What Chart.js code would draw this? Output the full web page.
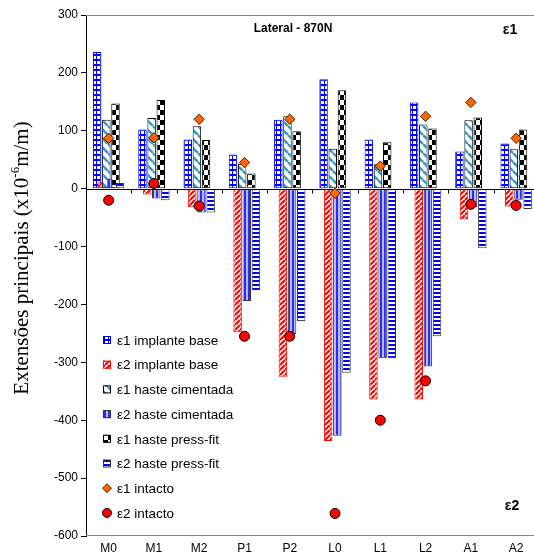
<!DOCTYPE html>
<html><head><meta charset="utf-8">
<script src="https://cdn.jsdelivr.net/npm/chart.js@4.4.0/dist/chart.umd.min.js"></script>
<style>
html,body{margin:0;padding:0;overflow:hidden;background:#fff;width:534px;height:557px}
#wrap{position:relative;width:545px;height:557px}
canvas{display:block}
</style></head><body>
<div id="wrap"><canvas id="c" width="545" height="557"></canvas></div>
<script>
// ---------- data ----------
const categories = ['M0','M1','M2','P1','P2','L0','L1','L2','A1','A2'];
const e1ImplanteBase   = [236, 102,  85,   59,  119,  189,   85,  149,   64,  78];
const e2ImplanteBase   = [ 11, -10, -32, -248, -325, -436, -364, -364,  -53, -31];
const e1HasteCimentada = [119, 122, 108,   43,  125,   69,   42,  111,  118,  68];
const e2HasteCimentada = [ 17, -17, -41, -194, -251, -427, -293, -307,  -32, -19];
const e1HastePressFit  = [147, 153,  84,   26,   99,  170,   80,  104,  123, 102];
const e2HastePressFit  = [ 10, -20, -41, -175, -229, -318, -293, -255, -103, -35];
const e1Intacto        = [ 87,  88, 120,   45,  120,   -8,   39,  125,  149,  87];
const e2Intacto        = [-20,   9, -30, -255, -255, -561, -400, -332,  -27, -29];
const yTicks = [300, 200, 100, 0, -100, -200, -300, -400, -500, -600];
const seriesLabels = ['ε1 implante base','ε2 implante base','ε1 haste cimentada','ε2 haste cimentada','ε1 haste press-fit','ε2 haste press-fit','ε1 intacto','ε2 intacto'];
const chartTitle = 'Lateral - 870N';
const yTitleMain = 'Extensões principais (x10', yTitleSup = '-6', yTitleTail = 'm/m)';

// ---------- patterns ----------
const canvas = document.getElementById('c');
const mainCtx = canvas.getContext('2d');
function makePattern(w, h, draw) {
  const c = document.createElement('canvas'); c.width = w; c.height = h;
  const g = c.getContext('2d'); draw(g, w, h);
  return mainCtx.createPattern(c, 'repeat');
}
const pSquares = makePattern(4, 5, (g) => { g.fillStyle = '#0000FF'; g.fillRect(0,0,4,5); g.fillStyle = '#fff'; g.fillRect(1,1,3,3); });
const pRedDiag = makePattern(5, 5, (g, w) => {
  g.fillStyle = '#fff'; g.fillRect(0,0,w,w);
  g.strokeStyle = '#FF0000'; g.lineWidth = 2.1;
  for (let k = -1; k <= 1; k++) { g.beginPath(); g.moveTo(k*w, w); g.lineTo(k*w + w, 0); g.stroke(); }
});
const pBlueDiag = makePattern(9, 9, (g, w) => {
  g.fillStyle = '#fff'; g.fillRect(0,0,w,w);
  g.strokeStyle = '#3399CC'; g.lineWidth = 2.6;
  for (let k = -1; k <= 1; k++) { g.beginPath(); g.moveTo(k*w, 0); g.lineTo(k*w + w, w); g.stroke(); }
});
const pVert = makePattern(4, 1, (g) => { g.fillStyle = '#2B2BFF'; g.fillRect(0,0,4,1); g.fillStyle = '#B8B8FF'; g.fillRect(2,0,2,1); });
const pChecker = makePattern(8, 10, (g) => { g.fillStyle = '#fff'; g.fillRect(0,0,8,10); g.fillStyle = '#000'; g.fillRect(0,0,4,5); g.fillRect(4,5,4,5); });
const pHoriz = makePattern(1, 4, (g) => { g.fillStyle = '#fff'; g.fillRect(0,0,1,4); g.fillStyle = '#0000FF'; g.fillRect(0,0,1,2); });

const barFills = [pSquares, pRedDiag, pBlueDiag, pVert, pChecker, pHoriz];
const barBorders = ['#0000FF', '#FF0000', '#000000', '#333333', '#000000', '#333333'];
const barValues = [e1ImplanteBase, e2ImplanteBase, e1HasteCimentada, e2HasteCimentada, e1HastePressFit, e2HastePressFit];

const datasets = barValues.map((vals, i) => ({
  type: 'bar', label: seriesLabels[i], data: vals,
  backgroundColor: barFills[i], borderColor: barBorders[i], borderWidth: 1, borderSkipped: false
}));
datasets.push({ type: 'line', label: seriesLabels[6], data: e1Intacto, showLine: false, order: -1,
  pointStyle: 'rectRot', pointRadius: 5.2, backgroundColor: '#FF6600', borderColor: '#3a2a1a', borderWidth: 1 });
datasets.push({ type: 'line', label: seriesLabels[7], data: e2Intacto, showLine: false, order: -1,
  pointStyle: 'circle', pointRadius: 5, backgroundColor: '#FF0000', borderColor: '#000', borderWidth: 1 });

const FONT = '"Liberation Sans", Arial, sans-serif';
const SERIF = '"Liberation Serif", "Times New Roman", serif';

const custom = {
  id: 'custom',
  beforeDatasetsDraw(chart) {
    const { ctx, chartArea: a, scales: { x, y } } = chart;
    ctx.save();
    ctx.strokeStyle = '#8a8a8a'; ctx.lineWidth = 1;
    ctx.beginPath();
    ctx.moveTo(a.left, a.top + 0.5); ctx.lineTo(a.right - 0.5, a.top + 0.5);
    ctx.lineTo(a.right - 0.5, a.bottom - 0.5); ctx.lineTo(a.left, a.bottom - 0.5);
    ctx.stroke();
    ctx.restore();
    // bars drawn in series order so later series sit on top
    for (let i = 0; i < barValues.length; i++) {
      const m = chart.getDatasetMeta(i);
      if (!m.hidden) m.controller.draw();
    }
    // zero axis with category tick marks
    const y0 = Math.round(y.getPixelForValue(0)) + 0.5;
    const step = x.getPixelForValue(1) - x.getPixelForValue(0);
    ctx.save();
    ctx.strokeStyle = '#000'; ctx.lineWidth = 1;
    ctx.beginPath();
    ctx.moveTo(a.left, y0); ctx.lineTo(a.right, y0);
    for (let i = 0; i <= categories.length; i++) {
      const px = Math.round(x.getPixelForValue(0) - step / 2 + i * step) + 0.5;
      ctx.moveTo(px, y0); ctx.lineTo(px, y0 + 4);
    }
    ctx.stroke();
    ctx.restore();
  },
  beforeDatasetDraw(chart, args) {
    if (args.index < barValues.length) return false;
  },
  afterDraw(chart) {
    const { ctx, chartArea: a } = chart;
    ctx.save();
    ctx.fillStyle = '#000';
    ctx.textBaseline = 'middle'; ctx.textAlign = 'center';
    ctx.font = 'bold 12px ' + FONT;
    ctx.fillText(chartTitle, a.left + 207, a.top + 14);
    ctx.font = 'bold 14px ' + FONT;
    ctx.fillText('ε1', a.left + 424, a.top + 15);
    ctx.fillText('ε2', a.left + 426, a.bottom - 30);

    // legend
    const lx = a.left + 17, ly0 = a.top + 325, dy = 24.7;
    ctx.textAlign = 'left';
    ctx.font = '13.5px ' + FONT;
    for (let i = 0; i < seriesLabels.length; i++) {
      const cy = ly0 + i * dy;
      const ds = chart.data.datasets[i];
      if (i < barValues.length) {
        ctx.fillStyle = ds.backgroundColor;
        ctx.fillRect(lx, cy - 4, 8, 8);
        ctx.strokeStyle = ds.borderColor; ctx.lineWidth = 1;
        ctx.strokeRect(lx + 0.5, cy - 3.5, 7, 7);
      } else if (i === 6) {
        ctx.beginPath();
        ctx.moveTo(lx + 4, cy - 4.5); ctx.lineTo(lx + 8.5, cy); ctx.lineTo(lx + 4, cy + 4.5); ctx.lineTo(lx - 0.5, cy); ctx.closePath();
        ctx.fillStyle = ds.backgroundColor; ctx.fill();
        ctx.strokeStyle = ds.borderColor; ctx.stroke();
      } else {
        ctx.beginPath(); ctx.arc(lx + 4, cy, 4.5, 0, Math.PI * 2);
        ctx.fillStyle = ds.backgroundColor; ctx.fill();
        ctx.strokeStyle = ds.borderColor; ctx.stroke();
      }
      ctx.fillStyle = '#000';
      ctx.fillText(seriesLabels[i], lx + 14, cy + 1);
    }

    // y title with superscript
    ctx.translate(21, a.top + 243);
    ctx.rotate(-Math.PI / 2);
    const f = '21px ' + SERIF, fs = '13px ' + SERIF;
    ctx.font = f; const w1 = ctx.measureText(yTitleMain).width, w3 = ctx.measureText(yTitleTail).width;
    ctx.font = fs; const w2 = ctx.measureText(yTitleSup).width;
    const x0 = -(w1 + w2 + w3) / 2;
    ctx.textBaseline = 'alphabetic';
    ctx.font = f; ctx.fillText(yTitleMain, x0, 7);
    ctx.font = fs; ctx.fillText(yTitleSup, x0 + w1, -2);
    ctx.font = f; ctx.fillText(yTitleTail, x0 + w1 + w2, 7);
    ctx.restore();
  }
};

new Chart(mainCtx, {
  type: 'bar',
  data: { labels: categories, datasets },
  options: {
    responsive: false, animation: false, devicePixelRatio: 1,
    layout: { padding: { top: 15, right: 4, left: 0, bottom: 0 } },
    plugins: { legend: { display: false }, tooltip: { enabled: false } },
    datasets: { bar: { categoryPercentage: 0.607, barPercentage: 1.85 } },
    scales: {
      x: {
        grid: { display: false, drawTicks: false }, border: { display: false },
        ticks: { color: '#000', font: { family: FONT, size: 12 }, padding: 5, maxRotation: 0, autoSkip: false },
        afterFit: (s) => { s.height = 21; }
      },
      y: {
        min: -600, max: 300,
        afterBuildTicks: (s) => { s.ticks = yTicks.map(v => ({ value: v })); },
        ticks: { color: '#000', font: { family: FONT, size: 12 }, padding: 3 },
        grid: { drawOnChartArea: false, drawTicks: true, tickLength: 5, color: '#000' },
        border: { display: true, color: '#000', width: 1 },
        afterFit: (s) => { s.width = 86; }
      }
    }
  },
  plugins: [custom]
});
</script>
</body></html>
